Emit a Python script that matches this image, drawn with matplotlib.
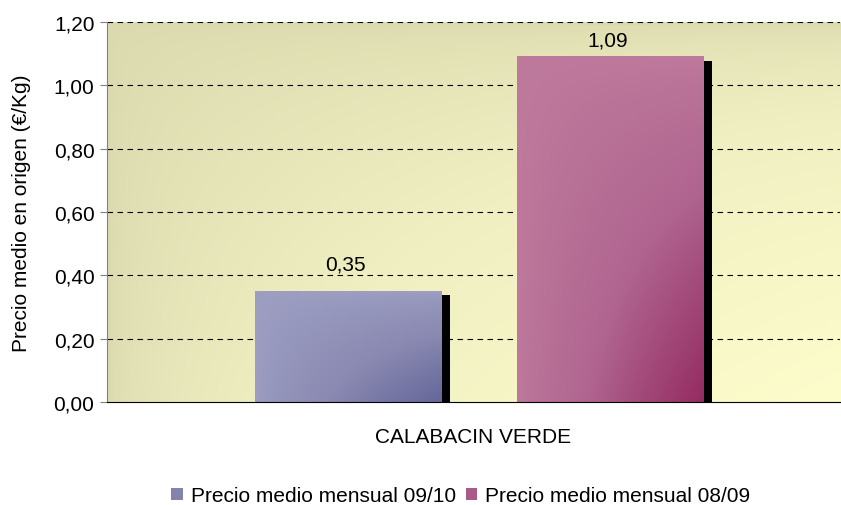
import numpy as np
import matplotlib.pyplot as plt
from matplotlib.colors import LinearSegmentedColormap
from matplotlib.patches import Rectangle
from matplotlib.transforms import ScaledTranslation

plt.rcParams['font.family'] = ['Liberation Sans', 'DejaVu Sans']

category = "CALABACIN VERDE"
series = ["Precio medio mensual 09/10", "Precio medio mensual 08/09"]
values = [0.35, 1.09]
yticks = [0.0, 0.2, 0.4, 0.6, 0.8, 1.0, 1.2]

# light -> dark colours for each bar gradient
bar_cmaps = [
    LinearSegmentedColormap.from_list("blue", ["#9d9ec2", "#8a8ab2", "#66679a"]),
    LinearSegmentedColormap.from_list("pink", ["#be7a9c", "#b06590", "#942c62"]),
]
bg_cmap = LinearSegmentedColormap.from_list("bg", ["#dbdaae", "#f0efc2", "#fdfccb"])
label_gap = [13, 5]  # points between bar top and value label


def corner_gradient(n=200, power=0.7):
    u = np.linspace(0, 1, n)[None, :]
    v = np.linspace(1, 0, n)[:, None]  # row 0 = top
    return (u * (1 - v)) ** power


fig = plt.figure(figsize=(8.41, 5.06), dpi=100)
ax = fig.add_axes([0.1272, 0.2036, 0.8716, 0.7509])

ax.set_xlim(-0.508, 0.492)
ax.set_ylim(0, 1.2)

# background
ax.imshow(corner_gradient(power=0.5), cmap=bg_cmap, extent=(-0.508, 0.492, 0, 1.2),
          aspect="auto", zorder=0, interpolation="bicubic")

for y in yticks[1:]:
    ax.axhline(y, color="black", lw=0.8, dashes=(5, 4), zorder=1)

x = np.arange(1)
width = 0.255
offsets = [-0.179, 0.179]
shadow_off = ScaledTranslation(8 / 100, -4 / 100, fig.dpi_scale_trans)

for i, (name, val) in enumerate(zip(series, values)):
    xc = x[0] + offsets[i]
    bars = ax.bar(xc, val, width=width, color="none", zorder=2)
    b = bars[0]
    x0, x1 = b.get_x(), b.get_x() + b.get_width()
    shadow = Rectangle((x0, 0), width, val, facecolor="black", edgecolor="none",
                       transform=ax.transData + shadow_off, zorder=2)
    shadow.set_clip_path(ax.patch)
    ax.add_patch(shadow)
    ax.imshow(corner_gradient(), cmap=bar_cmaps[i], extent=(x0, x1, 0, val),
              aspect="auto", zorder=3, interpolation="bicubic")
    ax.annotate(f"{val:.2f}".replace(".", ","), (xc, val), xytext=(-2, label_gap[i]),
                textcoords="offset points", ha="center", va="bottom",
                fontsize=15, zorder=4)
    ax.bar(xc, 0, width=width, color=bar_cmaps[i](0.6), label=name)

ax.set_xlim(-0.508, 0.492)
ax.set_ylim(0, 1.2)
ax.set_yticks(yticks)
ax.set_yticklabels([f"{t:.2f}".replace(".", ",") for t in yticks], fontsize=15)
ax.set_xticks([])
ax.set_xlabel(category, fontsize=15, labelpad=18)
ax.set_ylabel("Precio medio en origen (€/Kg)", fontsize=15, labelpad=16)
ax.tick_params(axis="y", length=5, color="#808080", pad=4)

for s in ["top", "right"]:
    ax.spines[s].set_visible(False)
ax.spines["left"].set_color("#808080")
ax.spines["bottom"].set_color("black")
ax.spines["left"].set_zorder(5)
ax.spines["bottom"].set_zorder(5)

fig.legend(loc="lower center", bbox_to_anchor=(0.548, -0.038), ncol=2, frameon=False,
           fontsize=15, handlelength=0.55, handleheight=0.55, handletextpad=0.4,
           columnspacing=0.45)

fig.savefig("out.png", dpi=100)
